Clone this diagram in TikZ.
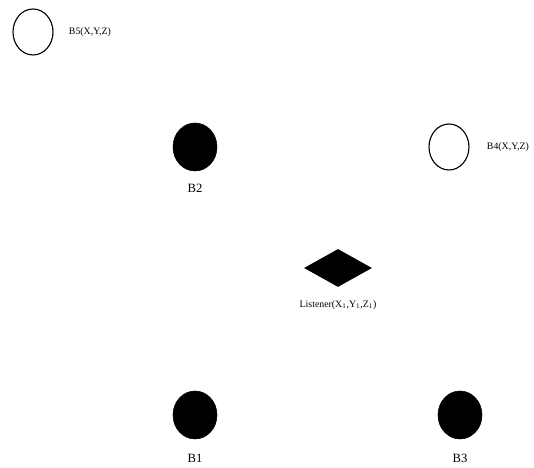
\documentclass[tikz,border=0pt]{standalone}
\usepackage{fontspec}
\setmainfont{Liberation Serif}
\usetikzlibrary{positioning, shapes.geometric}

\begin{document}
\begin{tikzpicture}[
        beacon/.style={ellipse, draw, fill=black, minimum width=11mm, minimum height=12mm, inner sep=0pt},
        openbeacon/.style={ellipse, draw, thick, fill=white, minimum width=10mm, minimum height=11.5mm, inner sep=0pt},
        listener/.style={diamond, fill=black, minimum width=17mm, minimum height=9.5mm, inner sep=0pt},
        every node/.style={font=\small}
    ]
        \useasboundingbox (0,0) rectangle (13.35,11.7);

        \node[openbeacon] (b5) at (0.825,10.9) {};
        \node[openbeacon] (b4) at (11.225,8.025) {};
        \node[beacon] (b2) at (4.875,8.025) {};
        \node[beacon] (b1) at (4.875,1.325) {};
        \node[beacon] (b3) at (11.5,1.325) {};
        \node[listener] (lis) at (8.45,5.0) {};

        \node[anchor=west, font=\scriptsize] (b5l) at (1.6,10.9) {B5(X,Y,Z)};
        \node[anchor=west, font=\scriptsize] (b4l) at (12.05,8.025) {B4(X,Y,Z)};
        \node (b2l) at (4.875,7.0) {B2};
        \node (b1l) at (4.875,0.25) {B1};
        \node (b3l) at (11.5,0.25) {B3};
        \node[font=\scriptsize] (lisl) at (8.45,4.075) {Listener(X\textsubscript{1},Y\textsubscript{1},Z\textsubscript{1})};
    \end{tikzpicture}
\end{document}
